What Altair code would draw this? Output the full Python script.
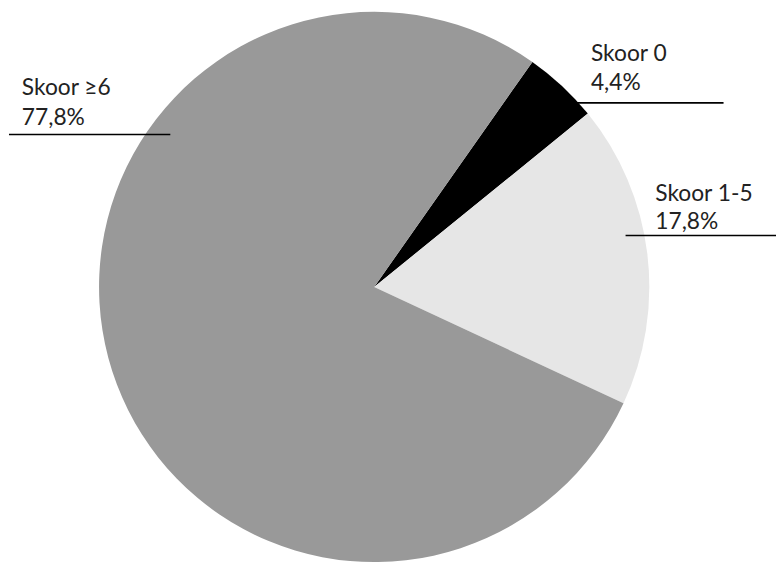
import math
import altair as alt
import pandas as pd

# data
categories = ["Skoor 0", "Skoor 1-5", "Skoor ≥6"]
shares = [4.4, 17.8, 77.8]
pct_labels = ["4,4%", "17,8%", "77,8%"]
colors = ["#000000", "#e6e6e6", "#999999"]

# layout (view coordinates)
W, H = 776, 555
CX, CY, R = 370, 279, 278
START = math.radians(35.1)

label_x = [589, 654, 14]
label_y1 = [51, 192, 85]
label_y2 = [80, 220, 115]
line_x1 = [552, 624, 1]
line_x2 = [723, 776, 164]
line_y = [93, 227, 125]

df = pd.DataFrame({
    "cat": categories,
    "share": shares,
    "order": list(range(len(categories))),
})

pie = alt.Chart(df).mark_arc(radius=R, stroke=None).encode(
    theta=alt.Theta("share:Q", stack=True,
                    scale=alt.Scale(range=[START, START + 2 * math.pi])),
    order=alt.Order("order:Q"),
    color=alt.Color("cat:N", scale=alt.Scale(domain=categories, range=colors), legend=None),
    x=alt.value(CX),
    y=alt.value(CY),
)

layers = [pie]
for i in range(len(categories)):
    ld = pd.DataFrame({"a": [0]})
    layers.append(
        alt.Chart(ld).mark_rule(color="#000000", strokeWidth=1.6).encode(
            x=alt.value(line_x1[i]), x2=alt.value(line_x2[i]), y=alt.value(line_y[i])
        )
    )
    layers.append(
        alt.Chart(ld).mark_text(align="left", baseline="alphabetic", font="Lato",
                                fontSize=23, color="#222222", text=categories[i]).encode(
            x=alt.value(label_x[i]), y=alt.value(label_y1[i])
        )
    )
    layers.append(
        alt.Chart(ld).mark_text(align="left", baseline="alphabetic", font="Lato",
                                fontSize=23, color="#222222", text=pct_labels[i]).encode(
            x=alt.value(label_x[i]), y=alt.value(label_y2[i])
        )
    )

chart = alt.layer(*layers).properties(
    width=W, height=H, padding=0, autosize=alt.AutoSizeParams(type="none")
).configure_view(stroke=None)

chart.save("out.html", embed_options={"renderer": "svg", "actions": False})
